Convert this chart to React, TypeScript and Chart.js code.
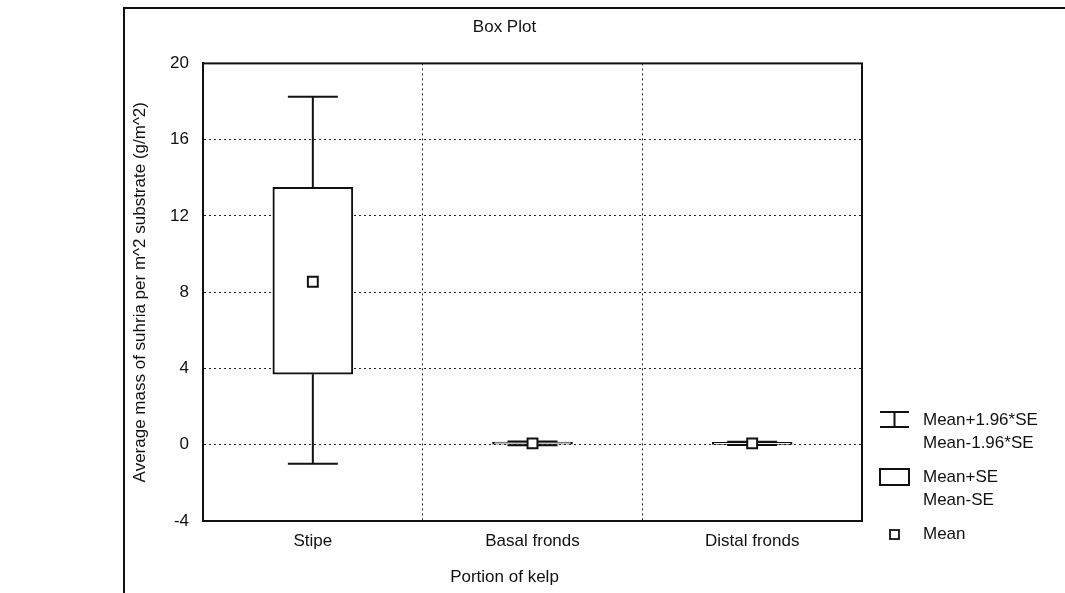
import { useEffect, useRef } from 'react';
import { Chart, registerables } from 'chart.js';

Chart.register(...registerables);

const categories = ['Stipe', 'Basal fronds', 'Distal fronds'];
const means = [8.55, 0.07, 0.07];
const seLower = [3.7, 0.0, 0.01];
const seUpper = [13.5, 0.14, 0.13];
const ciLower = [-1.0, -0.03, -0.02];
const ciUpper = [18.25, 0.17, 0.16];
const yTicks = [-4, 0, 4, 8, 12, 16, 20];
const legendWhisker = ['Mean+1.96*SE', 'Mean-1.96*SE'];
const legendBox = ['Mean+SE', 'Mean-SE'];
const legendMean = ['Mean'];

const FONT = "'Liberation Sans', Arial, sans-serif";
const FS = 17;

const framePlugin = {
  id: 'frame',
  beforeDraw(chart: any) {
    const { ctx, width, height } = chart;
    ctx.save();
    ctx.fillStyle = '#fff';
    ctx.fillRect(0, 0, width, height);
    ctx.strokeStyle = '#111';
    ctx.lineWidth = 2;
    ctx.beginPath();
    ctx.moveTo(124, height);
    ctx.lineTo(124, 8);
    ctx.lineTo(width, 8);
    ctx.stroke();
    ctx.restore();
  },
  afterDraw(chart: any) {
    const { ctx, chartArea: a } = chart;
    ctx.save();
    ctx.strokeStyle = '#111';
    ctx.lineWidth = 2;
    ctx.strokeRect(a.left, a.top, a.right - a.left, a.bottom - a.top);

    // legend
    const ix0 = a.right + 18;
    const ix1 = a.right + 47;
    const tx = a.right + 61;
    const b = a.bottom;
    ctx.fillStyle = '#111';
    ctx.font = `${FS}px ${FONT}`;
    ctx.textBaseline = 'middle';
    ctx.textAlign = 'left';
    // whisker icon
    ctx.beginPath();
    ctx.moveTo(ix0, b - 109); ctx.lineTo(ix1, b - 109);
    ctx.moveTo(ix0, b - 94); ctx.lineTo(ix1, b - 94);
    ctx.moveTo((ix0 + ix1) / 2, b - 109); ctx.lineTo((ix0 + ix1) / 2, b - 94);
    ctx.stroke();
    ctx.fillText(legendWhisker[0], tx, b - 101);
    ctx.fillText(legendWhisker[1], tx, b - 78);
    // box icon
    ctx.strokeRect(ix0, b - 52, ix1 - ix0, 16);
    ctx.fillText(legendBox[0], tx, b - 44);
    ctx.fillText(legendBox[1], tx, b - 21);
    // mean icon
    ctx.lineWidth = 1.8;
    ctx.strokeRect(ix0 + 10, b + 9, 9, 9);
    ctx.fillText(legendMean[0], tx, b + 13);
    ctx.restore();
  },
};

const whiskerPlugin = {
  id: 'whiskers',
  beforeDatasetsDraw(chart: any) {
    const { ctx } = chart;
    const xs = chart.scales.x;
    const ys = chart.scales.y;
    ctx.save();
    ctx.strokeStyle = '#111';
    ctx.lineWidth = 2;
    categories.forEach((_, i) => {
      const x = xs.getPixelForValue(i);
      const yLo = ys.getPixelForValue(ciLower[i]);
      const yHi = ys.getPixelForValue(ciUpper[i]);
      const bLo = ys.getPixelForValue(seLower[i]);
      const bHi = ys.getPixelForValue(seUpper[i]);
      ctx.beginPath();
      ctx.moveTo(x, yHi); ctx.lineTo(x, bHi);
      ctx.moveTo(x, bLo); ctx.lineTo(x, yLo);
      ctx.moveTo(x - 25, yHi); ctx.lineTo(x + 25, yHi);
      ctx.moveTo(x - 25, yLo); ctx.lineTo(x + 25, yLo);
      ctx.stroke();
    });
    ctx.restore();
  },
};

export default function App() {
  const ref = useRef<HTMLCanvasElement>(null);
  useEffect(() => {
    document.body.style.margin = '0';
    const canvas = ref.current!;
    const chart = new Chart(canvas, {
      type: 'bar',
      data: {
        labels: categories,
        datasets: [
          {
            type: 'line',
            label: 'Mean',
            data: means,
            showLine: false,
            pointStyle: 'rect',
            pointRadius: 7,
            pointBackgroundColor: '#fff',
            pointBorderColor: '#111',
            pointBorderWidth: 2,
            order: 0,
          } as any,
          {
            type: 'bar',
            label: 'Mean±SE',
            data: seLower.map((lo, i) => [lo, seUpper[i]]),
            backgroundColor: '#fff',
            borderColor: '#111',
            borderWidth: 2,
            borderSkipped: false,
            barThickness: 80,
            order: 1,
          } as any,
        ],
      },
      options: {
        responsive: false,
        animation: false,
        devicePixelRatio: 1,
        layout: { padding: { left: 124, right: 180, top: 0, bottom: 0 } },
        plugins: {
          legend: { display: false },
          tooltip: { enabled: false },
          title: {
            display: true,
            text: 'Box Plot',
            color: '#111',
            font: { family: FONT, size: FS, weight: 'normal' },
            padding: { top: 17, bottom: 26 },
          },
          subtitle: {
            display: true,
            position: 'bottom',
            text: 'Portion of kelp',
            color: '#111',
            font: { family: FONT, size: FS, weight: 'normal' },
            padding: { top: 4, bottom: 5 },
          },
        },
        scales: {
          x: {
            type: 'category',
            offset: true,
            grid: { display: true, offset: true, color: '#222', lineWidth: 1, drawTicks: false },
            border: { display: true, color: '#111', width: 2, dash: [2, 3] },
            ticks: { color: '#111', font: { family: FONT, size: FS }, padding: 10 },
            afterFit: (s: any) => { s.height = 42.6; },
          },
          y: {
            type: 'linear',
            min: Math.min(...yTicks),
            max: Math.max(...yTicks),
            afterBuildTicks: (s: any) => { s.ticks = yTicks.map((v) => ({ value: v })); },
            grid: { display: true, color: '#222', lineWidth: 1, drawTicks: false },
            border: { display: true, color: '#111', width: 2, dash: [2, 3] },
            ticks: { color: '#111', font: { family: FONT, size: FS }, padding: 14 },
            title: {
              display: true,
              text: 'Average mass of suhria per m^2 substrate (g/m^2)',
              color: '#111',
              font: { family: FONT, size: FS },
              padding: { top: 6, bottom: 0 },
            },
            afterFit: (s: any) => { s.width = 79; },
          },
          yr: {
            type: 'linear',
            position: 'right',
            min: 0,
            max: 1,
            grid: { display: false, drawTicks: false },
            border: { display: false },
            ticks: { display: false },
            afterFit: (s: any) => { s.width = 23; },
          },
        },
      } as any,
      plugins: [framePlugin, whiskerPlugin],
    });
    return () => chart.destroy();
  }, []);
  return (
    <div style={{ position: 'absolute', left: 0, top: 0, width: 1065, height: 593, background: '#fff' }}>
      <canvas ref={ref} width={1065} height={593} style={{ display: 'block', width: 1065, height: 593 }} />
    </div>
  );
}
